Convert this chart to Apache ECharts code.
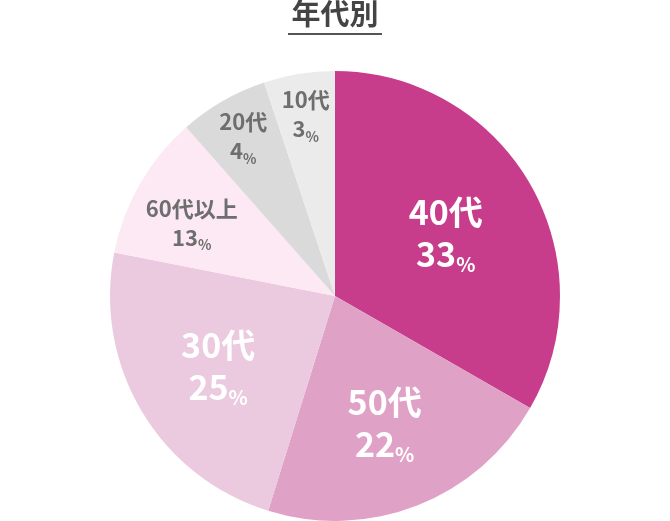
<!DOCTYPE html>
<html><head><meta charset="utf-8">
<script src="https://cdn.jsdelivr.net/npm/echarts@6/dist/echarts.min.js"></script>
<style>html,body{margin:0;padding:0;background:#fff}#c{width:670px;height:521px}</style>
</head><body><div id="c"></div>
<script>
// Categories in clockwise order from 12 o'clock
const categories = ['40代', '50代', '30代', '60代以上', '20代', '10代'];
// Slice sizes as drawn in the picture (angular share, %)
const sliceValues = [33.3, 21.5, 23.3, 10.4, 6.4, 5.1];
// Percent labels printed on the chart
const percentLabels = ['33', '22', '25', '13', '4', '3'];

// ---- styling (kept apart from the data) ----
const colors = ['#c73d8b', '#e0a1c7', '#ebc9de', '#fce9f3', '#dadada', '#ebebeb'];
const labelGroup = [0, 0, 0, 1, 2, 2];      // 0 = large white, 1/2 = gray
const labelNudge = { '40代': [-7, 5], '60代以上': [-2, 8] };

const FONT = '"Noto Sans CJK JP", "Noto Sans", sans-serif';
const chart = echarts.init(document.getElementById('c'));

const baseData = categories.map((n, i) => ({ name: n, value: sliceValues[i], itemStyle: { color: colors[i] } }));

const bigRich = {
  n: { fontFamily: FONT, fontWeight: 'bold', fontSize: 34, color: '#fff', lineHeight: 42 },
  v: { fontFamily: FONT, fontWeight: 'bold', fontSize: 34, color: '#fff', lineHeight: 42 },
  p: { fontFamily: FONT, fontWeight: 'bold', fontSize: 20, color: '#fff', lineHeight: 42, verticalAlign: 'bottom' }
};
const smallRich = {
  n: { fontFamily: FONT, fontWeight: 'bold', fontSize: 22, color: '#6e6e6e', lineHeight: 29 },
  v: { fontFamily: FONT, fontWeight: 'bold', fontSize: 22, color: '#6e6e6e', lineHeight: 29 },
  p: { fontFamily: FONT, fontWeight: 'bold', fontSize: 14, color: '#6e6e6e', lineHeight: 29, verticalAlign: 'bottom' }
};

function labelSeries(group, radius, rich) {
  return {
    type: 'pie', silent: true, center: [335, 296], radius: [0, radius],
    startAngle: 90, clockwise: true, animation: false,
    itemStyle: { color: 'rgba(0,0,0,0)' },
    labelLine: { show: false },
    data: categories.map((n, i) => ({
      name: n, value: sliceValues[i],
      label: { show: labelGroup[i] === group, offset: labelNudge[n] || [0, 0] }
    })),
    label: {
      position: 'inside',
      formatter: p => '{n|' + p.name + '}\n{v|' + percentLabels[p.dataIndex] + '}{p|%}',
      rich: rich
    }
  };
}

chart.setOption({
  backgroundColor: '#fff',
  animation: false,
  graphic: [
    { type: 'text', left: 'center', top: -1,
      style: { text: '年代別', font: 'bold 29px ' + FONT, fill: '#444' } },
    { type: 'rect', shape: { x: 288, y: 33, width: 94, height: 2 }, style: { fill: '#555' } }
  ],
  series: [
    {
      type: 'pie', center: [335, 296], radius: [0, 225],
      startAngle: 90, clockwise: true, animation: false,
      label: { show: false }, labelLine: { show: false },
      emphasis: { disabled: true },
      data: baseData
    },
    labelSeries(0, 266, bigRich),
    labelSeries(1, 320, smallRich),
    labelSeries(2, 362, smallRich)
  ]
});
</script></body></html>
